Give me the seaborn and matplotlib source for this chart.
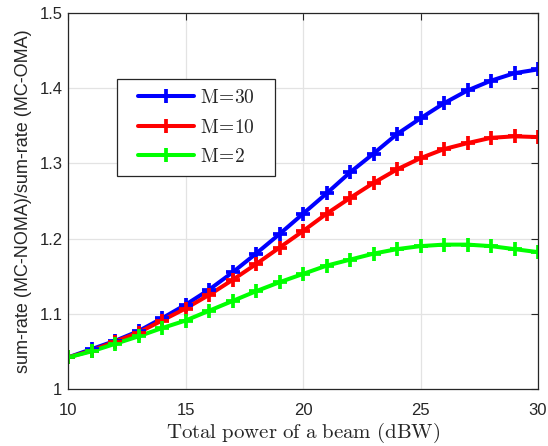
import numpy as np
import pandas as pd
import matplotlib
matplotlib.use("Agg")
import matplotlib.pyplot as plt
from matplotlib.lines import Line2D
from matplotlib.patches import Rectangle
import seaborn as sns

power = list(range(10, 31))
m30 = [1.042, 1.053, 1.064, 1.077, 1.094, 1.112, 1.132, 1.155, 1.180, 1.206, 1.233,
       1.260, 1.288, 1.313, 1.339, 1.360, 1.380, 1.397, 1.410, 1.420, 1.425]
m10 = [1.042, 1.051, 1.063, 1.075, 1.091, 1.107, 1.125, 1.145, 1.166, 1.188, 1.210,
       1.233, 1.254, 1.274, 1.292, 1.307, 1.319, 1.327, 1.334, 1.336, 1.335]
m2 = [1.042, 1.050, 1.060, 1.070, 1.081, 1.091, 1.104, 1.117, 1.130, 1.142, 1.153,
      1.164, 1.172, 1.180, 1.186, 1.190, 1.192, 1.192, 1.190, 1.186, 1.182]
labels = ["M=30", "M=10", "M=2"]
colors = ["#0000ff", "#ff0000", "#00ff00"]

df = pd.concat([
    pd.DataFrame({"power": power, "ratio": v, "series": lab})
    for v, lab in zip([m30, m10, m2], labels)
])

sns.set_style("white")
plt.rcParams["font.family"] = ["Liberation Sans", "DejaVu Sans"]
plt.rcParams["mathtext.fontset"] = "cm"

fig = plt.figure(figsize=(5.48, 4.46), dpi=100)
ax = fig.add_axes([68/548, 57/446, 470/548, 376/446])

LW, MS, MEW = 2.9, 9.5, 2.7
sns.lineplot(data=df, x="power", y="ratio", hue="series", hue_order=labels,
             palette=colors, ax=ax, linewidth=LW, legend=False)
for lab, v, c in zip(labels, [m30, m10, m2], colors):
    ax.plot(power, v, linestyle="none", marker="+", markersize=MS, mew=MEW, color=c)

ax.set_xlim(10, 30)
ax.set_ylim(1, 1.5)
ax.set_xticks([10, 15, 20, 25, 30])
ax.set_yticks([1, 1.1, 1.2, 1.3, 1.4, 1.5])
ax.set_yticklabels(["1", "1.1", "1.2", "1.3", "1.4", "1.5"])
ax.grid(True, color="#e3e3e3", linewidth=0.9)
ax.tick_params(direction="in", length=5, width=0.8, labelsize=12, top=True, right=True,
               colors="#262626")
ax.tick_params(axis="x", pad=10)
ax.tick_params(axis="y", pad=4)
for s in ax.spines.values():
    s.set_color("#262626")
    s.set_linewidth(0.9)
ax.set_axisbelow(True)

ax.set_xlabel(r"$\mathrm{Total\ power\ of\ a\ beam\ (dBW)}$", fontsize=15, labelpad=2)
ax.set_ylabel("sum-rate (MC-NOMA)/sum-rate (MC-OMA)", fontsize=13, labelpad=5)

# legend frame
frame = Rectangle((117/548, (446-176)/446), (275-117)/548, (176-79)/446,
                  transform=fig.transFigure, facecolor="white", edgecolor="#262626",
                  linewidth=0.9, zorder=5)
fig.add_artist(frame)
handles = [Line2D([0], [0], color=c, linewidth=LW, marker="+", markersize=MS, mew=MEW)
           for c in colors]
leg = fig.legend(handles, [r"$\mathrm{M\!=\!30}$", r"$\mathrm{M\!=\!10}$", r"$\mathrm{M\!=\!2}$"],
                 loc="center", bbox_to_anchor=(196/548, (446-127.5)/446),
                 fontsize=14, frameon=False, borderpad=0, borderaxespad=0,
                 labelspacing=0.6, handlelength=2.9, handletextpad=0.3)
leg.set_zorder(6)

fig.savefig("out.png", dpi=100)
